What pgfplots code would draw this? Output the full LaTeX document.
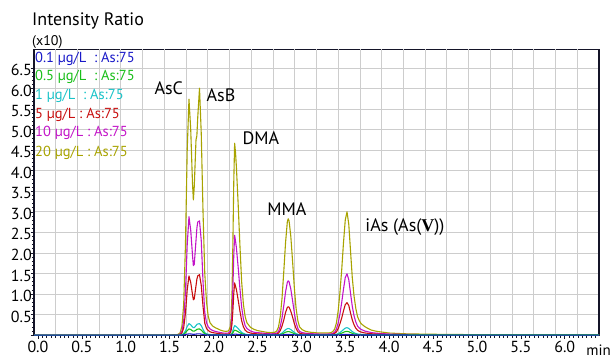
\documentclass[border=0pt]{standalone}
\usepackage{pgfplots}
\pgfplotsset{compat=1.18}
\usepackage{pgfplotstable}
\usepackage{fontspec}
\setmainfont{PT Sans}
\newfontfamily\serifV{Liberation Serif}
\definecolor{cB}{RGB}{25,25,200}
\definecolor{cG}{RGB}{25,190,25}
\definecolor{cC}{RGB}{25,195,200}
\definecolor{cR}{RGB}{200,15,15}
\definecolor{cM}{RGB}{195,20,200}
\definecolor{cY}{RGB}{168,163,0}
\definecolor{gridc}{RGB}{205,205,205}
\definecolor{axc}{RGB}{20,20,40}

\pgfplotstableread{
t      b     g      c      r      m      y
-0.045 0     0      0      0      0      0
1.50   0     0      0      0      0      0.005
1.56   0     0      0      0      0      0.01
1.58   0     0      0      0      0      0.01
1.60   0     0      0      0.005  0.01   0.02
1.62   0     0      0.003  0.015  0.03   0.06
1.64   0.001 0.005  0.01   0.05   0.10   0.22
1.66   0.004 0.02   0.04   0.18   0.35   0.75
1.68   0.011 0.055  0.10   0.53   1.05   2.20
1.70   0.022 0.11   0.21   1.10   2.20   4.50
1.72   0.030 0.15   0.28   1.44   2.88   5.74
1.74   0.027 0.135  0.25   1.28   2.55   5.00
1.76   0.021 0.105  0.20   0.99   1.95   3.70
1.77   0.019 0.095  0.18   0.86   1.69   3.29
1.78   0.019 0.095  0.18   0.88   1.72   3.60
1.80   0.024 0.12   0.23   1.20   2.30   4.75
1.81   0.028 0.14   0.26   1.36   2.60   4.85
1.82   0.029 0.145  0.27   1.44   2.75   5.30
1.84   0.030 0.15   0.28   1.47   2.78   6.01
1.86   0.024 0.12   0.23   1.21   2.30   4.90
1.88   0.015 0.075  0.14   0.70   1.30   3.00
1.90   0.006 0.032  0.06   0.29   0.55   1.50
1.92   0.003 0.016  0.03   0.16   0.30   0.80
1.94   0.002 0.010  0.02   0.11   0.20   0.45
1.96   0.002 0.008  0.015  0.08   0.15   0.30
1.99   0.001 0.005  0.01   0.06   0.11   0.22
2.02   0.001 0.003  0.01   0.05   0.09   0.18
2.05   0.001 0.003  0.005  0.04   0.075  0.15
2.08   0.001 0.003  0.005  0.03   0.06   0.12
2.11   0.001 0.003  0.005  0.025  0.05   0.10
2.14   0.001 0.003  0.005  0.023  0.045  0.09
2.17   0.001 0.003  0.005  0.025  0.05   0.10
2.19   0.001 0.005  0.01   0.05   0.10   0.20
2.20   0.002 0.01   0.02   0.11   0.21   0.40
2.21   0.005 0.026  0.05   0.27   0.52   1.00
2.22   0.011 0.057  0.11   0.59   1.14   2.20
2.23   0.019 0.094  0.18   1.00   1.92   3.70
2.24   0.024 0.12   0.23   1.27   2.43   4.67
2.25   0.023 0.114  0.22   1.19   2.29   4.45
2.26   0.021 0.105  0.20   1.11   2.13   4.10
2.28   0.017 0.083  0.16   0.86   1.66   3.20
2.30   0.011 0.057  0.11   0.59   1.14   2.20
2.32   0.007 0.034  0.065  0.35   0.68   1.30
2.34   0.004 0.020  0.04   0.20   0.39   0.75
2.36   0.002 0.012  0.025  0.12   0.23   0.45
2.38   0.001 0.007  0.015  0.08   0.16   0.30
2.42   0.001 0.003  0.008  0.05   0.10   0.19
2.46   0.001 0.003  0.005  0.035  0.07   0.14
2.50   0.001 0.003  0.005  0.03   0.06   0.11
2.55   0.001 0.003  0.005  0.025  0.05   0.09
2.60   0.001 0.003  0.005  0.02   0.04   0.07
2.65   0.001 0.003  0.005  0.015  0.03   0.06
2.70   0.001 0.003  0.005  0.018  0.035  0.07
2.72   0.001 0.003  0.006  0.026  0.05   0.10
2.74   0.002 0.006  0.01   0.047  0.09   0.20
2.76   0.003 0.013  0.025  0.11   0.21   0.45
2.78   0.005 0.027  0.05   0.22   0.42   0.90
2.80   0.010 0.048  0.09   0.37   0.72   1.55
2.82   0.014 0.07   0.13   0.55   1.05   2.25
2.84   0.016 0.082  0.155  0.67   1.28   2.75
2.85   0.017 0.085  0.16   0.69   1.32   2.83
2.86   0.017 0.083  0.157  0.68   1.30   2.78
2.88   0.014 0.072  0.135  0.58   1.12   2.40
2.90   0.011 0.053  0.10   0.44   0.84   1.80
2.92   0.007 0.034  0.065  0.28   0.54   1.15
2.94   0.004 0.019  0.036  0.16   0.30   0.65
2.96   0.002 0.010  0.02   0.083  0.16   0.35
2.98   0.001 0.005  0.01   0.047  0.09   0.20
3.01   0.001 0.003  0.005  0.03   0.06   0.13
3.05   0.001 0.003  0.005  0.023  0.045  0.09
3.10   0.001 0.003  0.005  0.018  0.035  0.07
3.15   0.001 0.003  0.005  0.015  0.03   0.06
3.20   0.001 0.003  0.005  0.013  0.025  0.05
3.25   0.001 0.003  0.005  0.013  0.025  0.05
3.30   0.001 0.003  0.005  0.013  0.025  0.05
3.34   0.001 0.003  0.005  0.015  0.03   0.06
3.36   0.001 0.003  0.006  0.024  0.045  0.09
3.38   0.002 0.005  0.01   0.04   0.075  0.15
3.40   0.002 0.01   0.02   0.08   0.15   0.30
3.42   0.004 0.018  0.036  0.16   0.30   0.60
3.44   0.006 0.032  0.063  0.28   0.52   1.05
3.46   0.010 0.048  0.097  0.42   0.80   1.60
3.48   0.014 0.068  0.135  0.59   1.12   2.25
3.50   0.017 0.085  0.17   0.74   1.40   2.80
3.52   0.018 0.09   0.18   0.79   1.49   3.00
3.54   0.016 0.082  0.163  0.72   1.35   2.70
3.56   0.012 0.062  0.123  0.54   1.02   2.05
3.58   0.009 0.043  0.085  0.37   0.70   1.40
3.60   0.006 0.028  0.057  0.25   0.47   0.95
3.62   0.004 0.02   0.039  0.17   0.32   0.65
3.64   0.003 0.014  0.027  0.12   0.22   0.45
3.66   0.002 0.01   0.02   0.09   0.17   0.35
3.68   0.002 0.008  0.017  0.074  0.14   0.28
3.72   0.001 0.006  0.012  0.053  0.10   0.21
3.76   0.001 0.005  0.01   0.042  0.08   0.16
3.80   0.001 0.004  0.007  0.032  0.06   0.12
3.86   0.001 0.003  0.005  0.024  0.045  0.09
3.93   0.001 0.003  0.005  0.018  0.035  0.07
4.00   0.001 0.002  0.004  0.013  0.025  0.05
4.20   0.001 0.002  0.003  0.008  0.015  0.03
4.50   0     0.001  0.002  0.005  0.01   0.02
5.00   0     0.001  0.001  0.003  0.005  0.01
6.39   0     0.001  0.001  0.003  0.005  0.01
}\data

\begin{document}
\begin{tikzpicture}
\useasboundingbox (0,0) rectangle (614bp,360bp);
\begin{axis}[
  at={(34bp,24.5bp)}, anchor=south west,
  scale only axis, width=565bp, height=286bp,
  xmin=-0.045, xmax=6.39, ymin=-0.01, ymax=6.95,
  font=\fontsize{16bp}{18bp}\selectfont,
  axis line style={draw=axc, line width=1.1bp},
  xtick={0,0.5,...,6.5},
  xticklabels={0.0,0.5,1.0,1.5,2.0,2.5,3.0,3.5,4.0,4.5,5.0,5.5,6.0,},
  ytick={0,0.5,...,6.5},
  yticklabels={,0.5,1.0,1.5,2.0,2.5,3.0,3.5,4.0,4.5,5.0,5.5,6.0,6.5},
  minor x tick num=9, minor y tick num=4,
  tick align=outside, major tick length=3.5bp, minor tick length=2.2bp,
  tick style={axc, line width=0.6bp},
  xtick pos=bottom, ytick pos=left,
  ymajorgrids=true,
  grid style={gridc, line width=0.8bp},
  extra x ticks={0.202,0.449,0.697,0.944,1.192,1.439,1.687,1.934,2.182,2.429,2.677,2.924,3.172,3.419,3.667,3.914,4.162,4.409,4.657,4.904,5.152,5.399,5.647,5.894,6.142},
  extra x tick labels={},
  extra x tick style={grid=major, major tick length=0pt},
  xticklabel style={inner sep=1bp, yshift=-1bp},
  yticklabel style={inner sep=0pt, xshift=1.5bp, yshift=-2bp},
  clip=false,
  every axis plot/.append style={line width=1.1bp, line join=round},
]
\addplot[cY] table[x=t,y=y]{\data};
\addplot[cM] table[x=t,y=m]{\data};
\addplot[cR] table[x=t,y=r]{\data};
\addplot[cC] table[x=t,y=c]{\data};
\addplot[cG] table[x=t,y=g]{\data};
\addplot[cB] table[x=t,y=b]{\data};

\begin{scope}[every node/.style={anchor=west, inner sep=0pt, font=\fontsize{14.5bp}{16bp}\selectfont}]
\node[cB] at (axis cs:-0.034,6.73) {0.1 µg/L\ \ : As:75};
\node[cG] at (axis cs:-0.034,6.28) {0.5 µg/L\ \ : As:75};
\node[cC] at (axis cs:-0.034,5.83) {1 µg/L\ \ : As:75};
\node[cR] at (axis cs:-0.034,5.37) {5 µg/L : As:75};
\node[cM] at (axis cs:-0.034,4.91) {10 µg/L : As:75};
\node[cY] at (axis cs:-0.034,4.44) {20 µg/L : As:75};
\end{scope}

\begin{scope}[every node/.style={inner sep=0pt, font=\fontsize{18bp}{20bp}\selectfont}]
\node at (axis cs:1.49,6.00) {AsC};
\node at (axis cs:2.085,5.83) {AsB};
\node at (axis cs:2.54,4.80) {DMA};
\node at (axis cs:2.836,3.07) {MMA};
\node at (axis cs:4.18,2.62) {iAs (As({\serifV\bfseries V}))};
\end{scope}
\end{axis}
\node[anchor=west, inner sep=0pt, font=\fontsize{18bp}{20bp}\selectfont] at (32bp,339bp) {Intensity Ratio};
\node[anchor=west, inner sep=0pt, font=\fontsize{14bp}{16bp}\selectfont] at (32bp,318bp) {(x10)};
\node[anchor=east, inner sep=0pt, font=\fontsize{15bp}{17bp}\selectfont] at (611bp,10bp) {min};
\end{tikzpicture}
\end{document}
